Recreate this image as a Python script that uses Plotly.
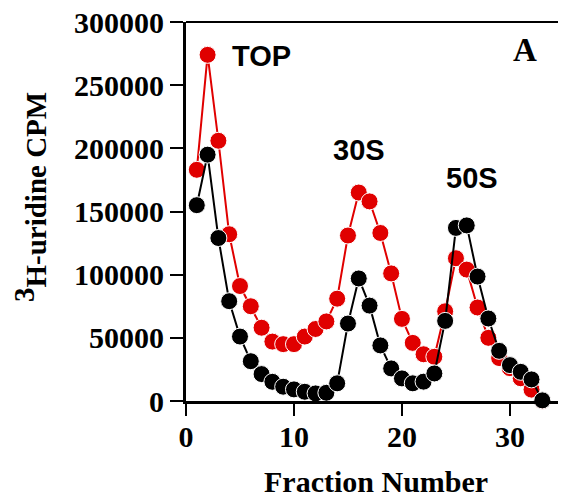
import plotly.graph_objects as go

fractions = list(range(1, 34))
red_cpm = [183000, 274000, 206000, 132000, 91000, 75000, 58000, 47000, 45000, 45000,
           51000, 57000, 63000, 81000, 131000, 165000, 158000, 133000, 101000, 65000,
           46000, 37000, 35000, 71000, 113000, 104000, 74000, 50000, 34000, 26000,
           18000, 9000, 0]
black_cpm = [155000, 195000, 129000, 79000, 51000, 31500, 21300, 15200, 11300, 9200,
             7300, 6000, 6500, 14000, 61300, 97000, 75500, 44000, 25800, 17900,
             14000, 15300, 21800, 63400, 137000, 139000, 98500, 65300, 39700, 28400,
             23100, 17100, 500]
y_ticks = [0, 50000, 100000, 150000, 200000, 250000, 300000]
x_ticks = [0, 10, 20, 30]

RED = "#e00000"
BLACK = "#000000"
serif = "Liberation Serif, Times New Roman, serif"
sans = "Liberation Sans, Arial, sans-serif"

fig = go.Figure()
for ys, col in [(red_cpm, RED), (black_cpm, BLACK)]:
    fig.add_trace(go.Scatter(
        x=fractions, y=ys, mode="lines+markers",
        line=dict(color=col, width=2),
        marker=dict(size=17, color=col, line=dict(color="white", width=1)),
        cliponaxis=False, showlegend=False))

fig.update_layout(
    width=558, height=493,
    margin=dict(l=178, r=1, t=14, b=100),
    plot_bgcolor="white", paper_bgcolor="white",
    xaxis=dict(range=[0, 35.1], tickvals=x_ticks, showgrid=False, zeroline=False,
               automargin=False, ticklabeloverflow="allow", ticklabelstandoff=-5,
               showline=True, linecolor="black", linewidth=3,
               ticks="outside", ticklen=12, tickwidth=2, tickcolor="black",
               tickfont=dict(family=serif, size=30, color="black", weight="bold")),
    yaxis=dict(range=[0, 300000], tickvals=y_ticks, tickformat="d",
               showgrid=False, zeroline=False, automargin=False,
               ticklabeloverflow="allow",
               showline=True, linecolor="black", linewidth=3,
               ticks="outside", ticklen=13, tickwidth=2, tickcolor="black",
               tickfont=dict(family=serif, size=30, color="black", weight="bold")),
    shapes=[
        dict(type="line", xref="paper", yref="paper", x0=0, x1=1, y0=1, y1=1,
             line=dict(color="black", width=2)),
        dict(type="line", xref="paper", yref="paper", x0=1, x1=1, y0=0, y1=1,
             line=dict(color="#888888", width=1)),
    ],
)

fig.add_annotation(x=-0.475, y=0.538, xref="paper", yref="paper",
                   text="<sup><span style='font-size:29px'>3</span></sup>H-uridine CPM",
                   textangle=-90, showarrow=False,
                   font=dict(family=serif, size=29, color="black", weight="bold"))
fig.add_annotation(x=0.5, y=-0.2137, xref="paper", yref="paper",
                   text="Fraction Number", showarrow=False, yanchor="middle",
                   font=dict(family=serif, size=30, color="black", weight="bold"))
for txt, x, y in [("TOP", 7.0, 273000), ("30S", 16.0, 198500), ("50S", 26.5, 176500)]:
    fig.add_annotation(x=x, y=y, text=txt, showarrow=False,
                       font=dict(family=sans, size=29, color="black", weight="bold"))
fig.add_annotation(x=31.4, y=278000, text="A", showarrow=False,
                   font=dict(family=serif, size=33, color="black", weight="bold"))

fig.write_html("out.html")
